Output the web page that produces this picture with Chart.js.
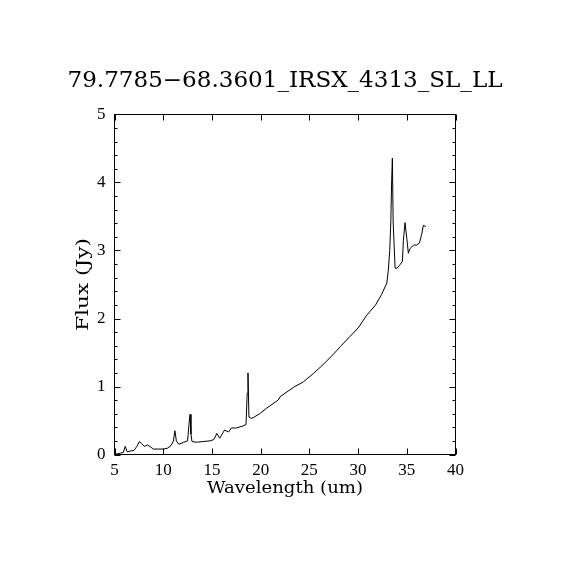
<!DOCTYPE html>
<html>
<head>
<meta charset="utf-8">
<script src="https://cdn.jsdelivr.net/npm/chart.js@4.4.1/dist/chart.umd.min.js"></script>
<style>
  html, body { margin: 0; padding: 0; background: #fff; }
  #grafico { display: block; }
</style>
</head>
<body>
<canvas id="grafico" width="570" height="570"></canvas>
<script>
// Espectro (comprimento de onda em um, fluxo em Jy)
const wavelength = [
  5.0, 5.3, 5.6, 5.9, 6.1, 6.3, 6.6, 7.0, 7.3, 7.55,
  7.8, 8.05, 8.4, 8.7, 9.0, 9.5, 10.0, 10.4, 10.8, 11.05,
  11.2, 11.35, 11.6, 12.1, 12.5, 12.65, 12.75, 12.85, 12.95, 13.5,
  14.0, 14.8, 15.2, 15.5, 15.8, 16.3, 16.7, 17.0, 17.5, 18.2,
  18.5, 18.62, 18.7, 18.8, 19.1, 19.9, 20.6, 21.8, 22.0, 23.4,
  24.4, 25.4, 26.4, 27.5, 28.2, 29.2, 30.0, 30.9, 31.8, 32.4,
  32.95, 33.1, 33.25, 33.36, 33.45, 33.52, 33.6, 33.8, 34.0, 34.3,
  34.55, 34.65, 34.82, 35.0, 35.16, 35.34, 35.5, 35.7, 36.0, 36.3,
  36.55, 36.7, 36.95
];
const flux = [
  0.01, 0.01, 0.02, 0.03, 0.12, 0.04, 0.05, 0.06, 0.12, 0.19,
  0.16, 0.12, 0.14, 0.11, 0.08, 0.08, 0.08, 0.09, 0.13, 0.2,
  0.35, 0.2, 0.15, 0.18, 0.2, 0.45, 0.59, 0.3, 0.19, 0.18,
  0.19, 0.2, 0.22, 0.31, 0.24, 0.36, 0.33, 0.39, 0.39, 0.42,
  0.44, 0.9, 1.2, 0.55, 0.53, 0.6, 0.68, 0.8, 0.85, 0.99,
  1.07, 1.19, 1.32, 1.48, 1.59, 1.74, 1.86, 2.05, 2.2, 2.35,
  2.52, 2.7, 3.0, 3.42, 4.04, 4.36, 3.42, 2.74, 2.74, 2.79,
  2.84, 3.15, 3.41, 3.18, 2.96, 3.03, 3.05, 3.08, 3.08, 3.11,
  3.25, 3.37, 3.35
];

const titulo = '79.7785\u221268.3601_IRSX_4313_SL_LL';
const tituloX = 'Wavelength (um)';
const tituloY = 'Flux (Jy)';

const xTicks = [5, 10, 15, 20, 25, 30, 35, 40];
const yTicks = [0, 1, 2, 3, 4, 5];
const yMinorStep = 0.2;

// Escreve texto ajustado a uma largura (a fonte do original e mais larga)
function textoAjustado(ctx, texto, x, y, larguraAlvo, fonte, rot) {
  ctx.save();
  ctx.font = fonte;
  ctx.fillStyle = '#000';
  ctx.textAlign = 'center';
  ctx.textBaseline = 'alphabetic';
  const w = ctx.measureText(texto).width;
  ctx.translate(x, y);
  if (rot) ctx.rotate(rot);
  ctx.scale(larguraAlvo / w, 1);
  ctx.fillText(texto, 0, 0);
  ctx.restore();
}

// Moldura com ticks para dentro nos quatro lados + titulos
const molduraPGPLOT = {
  id: 'molduraPGPLOT',
  afterDraw(chart) {
    const ctx = chart.ctx;
    const a = chart.chartArea;
    const sx = chart.scales.x;
    const sy = chart.scales.y;
    ctx.save();
    ctx.strokeStyle = '#000';
    ctx.lineWidth = 1;
    ctx.strokeRect(a.left, a.top, a.right - a.left, a.bottom - a.top);
    ctx.beginPath();
    xTicks.forEach(v => {
      const px = Math.round(sx.getPixelForValue(v)) + 0.5;
      ctx.moveTo(px, a.bottom); ctx.lineTo(px, a.bottom - 6);
      ctx.moveTo(px, a.top); ctx.lineTo(px, a.top + 6);
    });
    for (let v = 0; v <= 5.0001; v += yMinorStep) {
      const py = Math.round(sy.getPixelForValue(v)) + 0.5;
      const major = Math.abs(v - Math.round(v)) < 1e-6;
      const len = major ? 6 : 3;
      ctx.moveTo(a.left, py); ctx.lineTo(a.left + len, py);
      ctx.moveTo(a.right, py); ctx.lineTo(a.right - len, py);
    }
    ctx.stroke();
    ctx.restore();

    const cx = (a.left + a.right) / 2;
    const cy = (a.top + a.bottom) / 2;
    textoAjustado(ctx, titulo, cx, 87, 435, '22px "DejaVu Serif"', 0);
    textoAjustado(ctx, tituloX, cx, 493, 156, '17px "DejaVu Serif"', 0);
    textoAjustado(ctx, tituloY, 88, cy, 93, '17px "DejaVu Serif"', -Math.PI / 2);
  }
};

window.addEventListener('DOMContentLoaded', () => {
  const ctx = document.getElementById('grafico').getContext('2d');
  new Chart(ctx, {
    type: 'line',
    data: {
      datasets: [{
        data: wavelength.map((w, i) => ({ x: w, y: flux[i] })),
        borderColor: '#000',
        borderWidth: 1,
        pointRadius: 0,
        tension: 0,
        fill: false
      }]
    },
    options: {
      responsive: false,
      devicePixelRatio: 1,
      animation: false,
      layout: { padding: { left: 0, right: 114.5, top: 114.5, bottom: 0 } },
      plugins: { legend: { display: false }, tooltip: { enabled: false } },
      scales: {
        x: {
          type: 'linear',
          min: 5,
          max: 40,
          afterFit(s) { s.height = 115.5; },
          afterBuildTicks(s) { s.ticks = xTicks.map(v => ({ value: v })); },
          grid: { display: false, drawTicks: false },
          border: { display: false },
          ticks: {
            padding: 6,
            maxRotation: 0,
            color: '#000',
            font: { family: 'Liberation Serif', size: 17 }
          }
        },
        y: {
          min: 0,
          max: 5,
          afterFit(s) { s.width = 114.5; },
          afterBuildTicks(s) { s.ticks = yTicks.map(v => ({ value: v })); },
          grid: { display: false, drawTicks: false },
          border: { display: false },
          ticks: {
            padding: 9,
            color: '#000',
            font: { family: 'Liberation Serif', size: 17 }
          }
        }
      }
    },
    plugins: [molduraPGPLOT]
  });
});
</script>
</body>
</html>
